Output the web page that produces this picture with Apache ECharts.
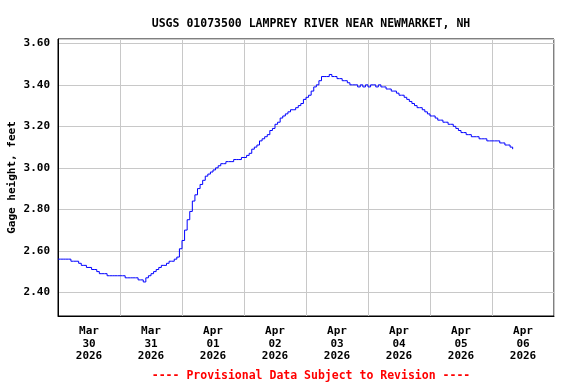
<!DOCTYPE html>
<html>
<head>
<meta charset="utf-8">
<script src="https://cdn.jsdelivr.net/npm/echarts@6/dist/echarts.min.js"></script>
<style>html,body{margin:0;padding:0;background:#fff}#c{width:576px;height:384px}</style>
</head>
<body>
<div id="c"></div>
<script>
// Hours since 2026-03-30 00:00 (hourly readings)
const hours = [];
for (let h = 0; h <= 176; h++) hours.push(h);
// Gage height, feet (hourly)
const gageHeight = [
 2.56,2.56,2.56,2.56,2.56,2.55,2.55,2.55,2.54,2.53,
 2.53,2.52,2.52,2.51,2.51,2.50,2.49,2.49,2.49,2.48,
 2.48,2.48,2.48,2.48,2.48,2.48,2.47,2.47,2.47,2.47,
 2.47,2.46,2.46,2.45,2.47,2.48,2.49,2.50,2.51,2.52,
 2.53,2.53,2.54,2.55,2.55,2.56,2.57,2.61,2.65,2.70,
 2.75,2.79,2.84,2.87,2.90,2.92,2.94,2.96,2.97,2.98,
 2.99,3.00,3.01,3.02,3.02,3.03,3.03,3.03,3.04,3.04,
 3.04,3.05,3.05,3.06,3.07,3.09,3.10,3.11,3.13,3.14,
 3.15,3.16,3.18,3.19,3.21,3.22,3.24,3.25,3.26,3.27,
 3.28,3.28,3.29,3.30,3.31,3.33,3.34,3.35,3.37,3.39,
 3.40,3.42,3.44,3.44,3.44,3.45,3.44,3.44,3.43,3.43,
 3.42,3.42,3.41,3.40,3.40,3.40,3.39,3.40,3.39,3.40,
 3.39,3.40,3.40,3.39,3.40,3.39,3.39,3.38,3.38,3.37,
 3.37,3.36,3.35,3.35,3.34,3.33,3.32,3.31,3.30,3.29,
 3.29,3.28,3.27,3.26,3.25,3.25,3.24,3.23,3.23,3.22,
 3.22,3.21,3.21,3.20,3.19,3.18,3.17,3.17,3.16,3.16,
 3.15,3.15,3.15,3.14,3.14,3.14,3.13,3.13,3.13,3.13,
 3.13,3.12,3.12,3.11,3.11,3.10,3.09
];
// Day labels (placed at noon of each day)
const dayLabels = ['Mar\n30\n2026','Mar\n31\n2026','Apr\n01\n2026','Apr\n02\n2026',
                   'Apr\n03\n2026','Apr\n04\n2026','Apr\n05\n2026','Apr\n06\n2026'];
const titleText = 'USGS 01073500 LAMPREY RIVER NEAR NEWMARKET, NH';
const footerText = '---- Provisional Data Subject to Revision ----';
const yName = 'Gage height, feet';

const FONT = 'DejaVu Sans Mono';
const chart = echarts.init(document.getElementById('c'), null, {renderer: 'canvas'});
chart.setOption({
  animation: false,
  backgroundColor: '#fff',
  title: [
    {text: titleText, left: 306, top: 13, textAlign: 'center',
     textStyle: {fontFamily: FONT, fontWeight: 'bold', fontSize: 11.5, color: '#000'}},
    {text: footerText, left: 306, top: 365, textAlign: 'center',
     textStyle: {fontFamily: FONT, fontWeight: 'bold', fontSize: 11.5, color: '#ff0000'}}
  ],
  grid: {left: 58, right: 22, top: 39, bottom: 68, show: true, borderColor: '#000', borderWidth: 1,
         containLabel: false, outerBoundsMode: 'none'},
  xAxis: [
    {type: 'value', min: 0, max: 192, interval: 24, position: 'bottom',
     axisLine: {show: true, lineStyle: {color: '#000'}}, axisTick: {show: false},
     axisLabel: {show: false},
     splitLine: {show: true, lineStyle: {color: '#c8c8c8', width: 1}}},
    {type: 'value', min: 0, max: 192, interval: 12, position: 'bottom',
     axisLine: {show: false}, axisTick: {show: false}, splitLine: {show: false},
     axisLabel: {show: true, margin: 9, lineHeight: 12.5, fontFamily: FONT, fontWeight: 'bold', fontSize: 11, color: '#000',
       formatter: function (v) { return (v % 24 === 12) ? dayLabels[(v - 12) / 24] : ''; }}}
  ],
  yAxis: {
    type: 'value', min: 2.286, max: 3.621, splitNumber: 6,
    name: yName, nameLocation: 'middle', nameGap: 40, nameMoveOverlap: false,
    nameTextStyle: {fontFamily: FONT, fontWeight: 'bold', fontSize: 11, color: '#000'},
    axisLine: {show: true, lineStyle: {color: '#000'}}, axisTick: {show: false},
    splitLine: {show: true, lineStyle: {color: '#c8c8c8', width: 1}},
    axisLabel: {margin: 8, fontFamily: FONT, fontWeight: 'bold', fontSize: 11, color: '#000',
      showMinLabel: false, showMaxLabel: false,
      formatter: function (v) {
        const r = Math.round(v * 5) / 5;
        return Math.abs(v - r) < 1e-6 ? v.toFixed(2) : '';
      }}
  },
  series: [{
    type: 'line', xAxisIndex: 0, data: hours.map((h, i) => [h, gageHeight[i]]),
    step: 'end', showSymbol: false, symbol: 'none',
    lineStyle: {color: '#0000ff', width: 1}
  }]
});
</script>
</body>
</html>
